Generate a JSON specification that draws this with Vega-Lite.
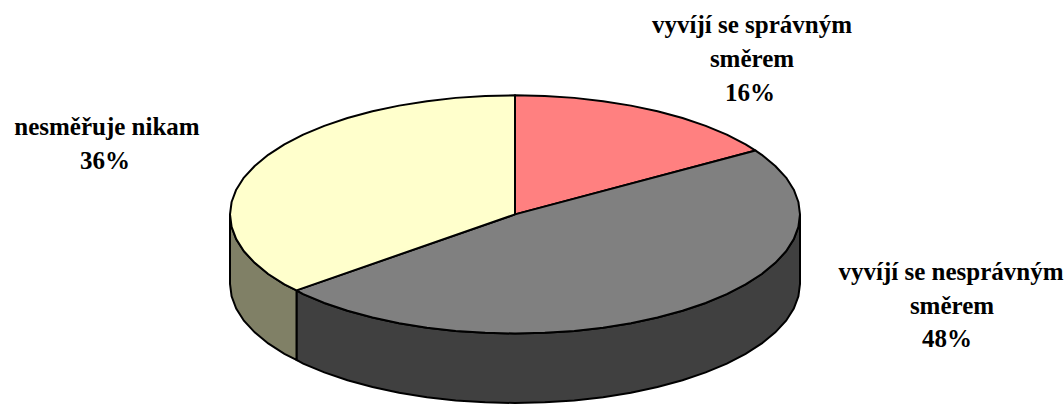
{
"$schema":"https://vega.github.io/schema/vega-lite/v6.json",
"width":1064,"height":407,
"autosize":{"type":"fit","contains":"padding"},
"padding":0,
"background":"white",
"view":{"stroke":null},
"layer":[
{"data":{"values":[
{"part":"side nesprávným","x":800,"y":216,"y2":286},
{"part":"side nesprávným","x":798.4,"y":228.5,"y2":298.5},
{"part":"side nesprávným","x":793.8,"y":240.9,"y2":310.9},
{"part":"side nesprávným","x":786.1,"y":253.1,"y2":323.1},
{"part":"side nesprávným","x":775.3,"y":264.8,"y2":334.8},
{"part":"side nesprávným","x":761.8,"y":276,"y2":346},
{"part":"side nesprávným","x":745.6,"y":286.5,"y2":356.5},
{"part":"side nesprávným","x":726.8,"y":296.3,"y2":366.3},
{"part":"side nesprávným","x":705.7,"y":305.2,"y2":375.2},
{"part":"side nesprávným","x":682.5,"y":313.1,"y2":383.1},
{"part":"side nesprávným","x":657.5,"y":319.9,"y2":389.9},
{"part":"side nesprávným","x":630.9,"y":325.6,"y2":395.6},
{"part":"side nesprávným","x":603.1,"y":330.1,"y2":400.1},
{"part":"side nesprávným","x":574.3,"y":333.4,"y2":403.4},
{"part":"side nesprávným","x":544.8,"y":335.3,"y2":405.3},
{"part":"side nesprávným","x":515,"y":336,"y2":406},
{"part":"side nesprávným","x":485.2,"y":335.3,"y2":405.3},
{"part":"side nesprávným","x":455.7,"y":333.4,"y2":403.4},
{"part":"side nesprávným","x":426.9,"y":330.1,"y2":400.1},
{"part":"side nesprávným","x":399.1,"y":325.6,"y2":395.6},
{"part":"side nesprávným","x":372.5,"y":319.9,"y2":389.9},
{"part":"side nesprávným","x":347.5,"y":313.1,"y2":383.1},
{"part":"side nesprávným","x":324.3,"y":305.2,"y2":375.2},
{"part":"side nesprávným","x":303.2,"y":296.3,"y2":366.3},
{"part":"side nesprávným","x":296.5,"y":292.5,"y2":362.5},
{"part":"side nikam","x":296.5,"y":292.5,"y2":362.5},
{"part":"side nikam","x":284.4,"y":286.5,"y2":356.5},
{"part":"side nikam","x":268.2,"y":276,"y2":346},
{"part":"side nikam","x":254.7,"y":264.8,"y2":334.8},
{"part":"side nikam","x":243.9,"y":253.1,"y2":323.1},
{"part":"side nikam","x":236.2,"y":240.9,"y2":310.9},
{"part":"side nikam","x":231.6,"y":228.5,"y2":298.5},
{"part":"side nikam","x":230,"y":216,"y2":286}
]},
"mark":{"type":"area","stroke":"black","strokeWidth":2,"opacity":1},
"encoding":{
"x":{"field":"x","type":"quantitative","scale":{"domain":[0,1064],"nice":false,"zero":false},"axis":null},
"y":{"field":"y","type":"quantitative","scale":{"domain":[407,0],"nice":false,"zero":false},"axis":null},
"y2":{"field":"y2"},
"fill":{"field":"part","type":"nominal","legend":null,"scale":{"domain":["side nesprávným","side nikam"],"range":["#404040","#808066"]}}
}},
{"data":{"values":[
{"part":"správným","seq":0,"x":515,"y":216},
{"part":"správným","seq":1,"x":515,"y":96},
{"part":"správným","seq":2,"x":544.8,"y":96.7},
{"part":"správným","seq":3,"x":574.3,"y":98.6},
{"part":"správným","seq":4,"x":603.1,"y":101.9},
{"part":"správným","seq":5,"x":630.9,"y":106.4},
{"part":"správným","seq":6,"x":657.5,"y":112.1},
{"part":"správným","seq":7,"x":682.5,"y":118.9},
{"part":"správným","seq":8,"x":705.7,"y":126.8},
{"part":"správným","seq":9,"x":726.8,"y":135.7},
{"part":"správným","seq":10,"x":745.6,"y":145.5},
{"part":"správným","seq":11,"x":755.6,"y":151.7},
{"part":"správným","seq":12,"x":515,"y":216},
{"part":"nesprávným","seq":0,"x":515,"y":216},
{"part":"nesprávným","seq":1,"x":755.6,"y":151.7},
{"part":"nesprávným","seq":2,"x":761.8,"y":156},
{"part":"nesprávným","seq":3,"x":775.3,"y":167.2},
{"part":"nesprávným","seq":4,"x":786.1,"y":178.9},
{"part":"nesprávným","seq":5,"x":793.8,"y":191.1},
{"part":"nesprávným","seq":6,"x":798.4,"y":203.5},
{"part":"nesprávným","seq":7,"x":800,"y":216},
{"part":"nesprávným","seq":8,"x":798.4,"y":228.5},
{"part":"nesprávným","seq":9,"x":793.8,"y":240.9},
{"part":"nesprávným","seq":10,"x":786.1,"y":253.1},
{"part":"nesprávným","seq":11,"x":775.3,"y":264.8},
{"part":"nesprávným","seq":12,"x":761.8,"y":276},
{"part":"nesprávným","seq":13,"x":745.6,"y":286.5},
{"part":"nesprávným","seq":14,"x":726.8,"y":296.3},
{"part":"nesprávným","seq":15,"x":705.7,"y":305.2},
{"part":"nesprávným","seq":16,"x":682.5,"y":313.1},
{"part":"nesprávným","seq":17,"x":657.5,"y":319.9},
{"part":"nesprávným","seq":18,"x":630.9,"y":325.6},
{"part":"nesprávným","seq":19,"x":603.1,"y":330.1},
{"part":"nesprávným","seq":20,"x":574.3,"y":333.4},
{"part":"nesprávným","seq":21,"x":544.8,"y":335.3},
{"part":"nesprávným","seq":22,"x":515,"y":336},
{"part":"nesprávným","seq":23,"x":485.2,"y":335.3},
{"part":"nesprávným","seq":24,"x":455.7,"y":333.4},
{"part":"nesprávným","seq":25,"x":426.9,"y":330.1},
{"part":"nesprávným","seq":26,"x":399.1,"y":325.6},
{"part":"nesprávným","seq":27,"x":372.5,"y":319.9},
{"part":"nesprávným","seq":28,"x":347.5,"y":313.1},
{"part":"nesprávným","seq":29,"x":324.3,"y":305.2},
{"part":"nesprávným","seq":30,"x":303.2,"y":296.3},
{"part":"nesprávným","seq":31,"x":296.5,"y":292.5},
{"part":"nesprávným","seq":32,"x":515,"y":216},
{"part":"nikam","seq":0,"x":515,"y":216},
{"part":"nikam","seq":1,"x":296.5,"y":292.5},
{"part":"nikam","seq":2,"x":284.4,"y":286.5},
{"part":"nikam","seq":3,"x":268.2,"y":276},
{"part":"nikam","seq":4,"x":254.7,"y":264.8},
{"part":"nikam","seq":5,"x":243.9,"y":253.1},
{"part":"nikam","seq":6,"x":236.2,"y":240.9},
{"part":"nikam","seq":7,"x":231.6,"y":228.5},
{"part":"nikam","seq":8,"x":230,"y":216},
{"part":"nikam","seq":9,"x":231.6,"y":203.5},
{"part":"nikam","seq":10,"x":236.2,"y":191.1},
{"part":"nikam","seq":11,"x":243.9,"y":178.9},
{"part":"nikam","seq":12,"x":254.7,"y":167.2},
{"part":"nikam","seq":13,"x":268.2,"y":156},
{"part":"nikam","seq":14,"x":284.4,"y":145.5},
{"part":"nikam","seq":15,"x":303.2,"y":135.7},
{"part":"nikam","seq":16,"x":324.3,"y":126.8},
{"part":"nikam","seq":17,"x":347.5,"y":118.9},
{"part":"nikam","seq":18,"x":372.5,"y":112.1},
{"part":"nikam","seq":19,"x":399.1,"y":106.4},
{"part":"nikam","seq":20,"x":426.9,"y":101.9},
{"part":"nikam","seq":21,"x":455.7,"y":98.6},
{"part":"nikam","seq":22,"x":485.2,"y":96.7},
{"part":"nikam","seq":23,"x":515,"y":96},
{"part":"nikam","seq":24,"x":515,"y":216}
]},
"mark":{"type":"line","stroke":"black","strokeWidth":2,"strokeJoin":"round"},
"encoding":{
"x":{"field":"x","type":"quantitative","scale":{"domain":[0,1064],"nice":false,"zero":false},"axis":null},
"y":{"field":"y","type":"quantitative","scale":{"domain":[407,0],"nice":false,"zero":false},"axis":null},
"order":{"field":"seq","type":"quantitative"},
"detail":{"field":"part","type":"nominal"},
"fill":{"field":"part","type":"nominal","legend":null,"scale":{"domain":["správným","nesprávným","nikam"],"range":["#ff8080","#808080","#ffffcc"]}}
}},
{"data":{"values":[
{"text":"vyvíjí se správným","x":752,"y":33},
{"text":"směrem","x":752,"y":68},
{"text":"16%","x":750,"y":102},
{"text":"vyvíjí se nesprávným","x":951,"y":282},
{"text":"směrem","x":952,"y":316},
{"text":"48%","x":947,"y":350},
{"text":"nesměřuje nikam","x":107,"y":136},
{"text":"36%","x":105,"y":170}
]},
"mark":{"type":"text","font":"Liberation Serif","fontWeight":"bold","fontSize":25,"align":"center","baseline":"alphabetic","color":"black"},
"encoding":{
"x":{"field":"x","type":"quantitative","scale":{"domain":[0,1064],"nice":false,"zero":false},"axis":null},
"y":{"field":"y","type":"quantitative","scale":{"domain":[407,0],"nice":false,"zero":false},"axis":null},
"text":{"field":"text","type":"nominal"}
}}
],
"resolve":{"scale":{"fill":"independent"}}
}
